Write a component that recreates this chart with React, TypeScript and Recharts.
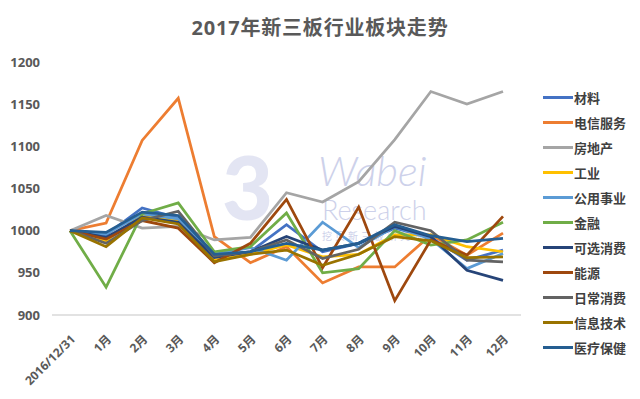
import React from 'react';
import { LineChart, Line, XAxis, YAxis } from 'recharts';

const months = ['2016/12/31', '1月', '2月', '3月', '4月', '5月', '6月', '7月', '8月', '9月', '10月', '11月', '12月'];

const cailiao = [1000, 995, 1027, 1015, 970, 975, 1007, 975, 985, 1003, 992, 965, 977];
const dianxin = [1000, 1009, 1107, 1157, 993, 962, 981, 938, 957, 957, 995, 971, 997];
const fangdichan = [1000, 1018, 1003, 1005, 989, 992, 1045, 1034, 1058, 1108, 1165, 1150, 1165];
const gongye = [1000, 988, 1018, 1012, 965, 972, 983, 969, 972, 995, 995, 981, 975];
const gongyong = [1000, 996, 1020, 1014, 972, 980, 965, 1010, 980, 1005, 990, 955, 973];
const jinrong = [1000, 933, 1020, 1033, 975, 981, 1021, 950, 955, 1000, 983, 989, 1010];
const kexuan = [1000, 992, 1016, 1010, 968, 975, 993, 977, 985, 1005, 993, 953, 941];
const nengyuan = [1000, 990, 1012, 1003, 962, 985, 1037, 956, 1028, 917, 989, 971, 1017];
const richang = [1000, 985, 1012, 1023, 970, 975, 989, 967, 978, 1010, 1000, 965, 963];
const xinxi = [1000, 981, 1015, 1008, 963, 972, 977, 959, 972, 993, 988, 968, 969];
const yiliao = [1000, 998, 1022, 1018, 972, 975, 985, 977, 985, 1007, 994, 987, 991];

const yTicks = [900, 950, 1000, 1050, 1100, 1150, 1200];

const series = [
  { key: 'cailiao', name: '材料', color: '#4472C4', values: cailiao },
  { key: 'dianxin', name: '电信服务', color: '#ED7D31', values: dianxin },
  { key: 'fangdichan', name: '房地产', color: '#A5A5A5', values: fangdichan },
  { key: 'gongye', name: '工业', color: '#FFC000', values: gongye },
  { key: 'gongyong', name: '公用事业', color: '#5B9BD5', values: gongyong },
  { key: 'jinrong', name: '金融', color: '#70AD47', values: jinrong },
  { key: 'kexuan', name: '可选消费', color: '#264478', values: kexuan },
  { key: 'nengyuan', name: '能源', color: '#9E480E', values: nengyuan },
  { key: 'richang', name: '日常消费', color: '#636363', values: richang },
  { key: 'xinxi', name: '信息技术', color: '#997300', values: xinxi },
  { key: 'yiliao', name: '医疗保健', color: '#255E91', values: yiliao },
];

const chartData = months.map((m, i) => {
  const row: Record<string, string | number> = { month: m };
  series.forEach((s) => {
    row[s.key] = s.values[i];
  });
  return row;
});

const FONT = '"Open Sans", "Noto Sans CJK SC", sans-serif';

const XTick = (props: any) => {
  const { x, y, payload } = props;
  const ax = x + 6;
  const ay = y + 17;
  return (
    <text
      x={ax}
      y={ay}
      transform={`rotate(-45, ${ax}, ${ay})`}
      textAnchor="end"
      fill="#595959"
      fontSize={12}
      fontWeight={700}
      fontFamily={FONT}
    >
      {payload.value}
    </text>
  );
};

export default function App() {
  return (
    <div style={{ position: 'absolute', left: 0, top: 0, width: 640, height: 399, background: '#fff', fontFamily: FONT }}>
      {/* watermark */}
      <div style={{ position: 'absolute', left: 0, top: 0, width: 640, height: 399, color: '#cdd1ea' }}>
        <div style={{ position: 'absolute', left: 222, top: 142, fontSize: 88, fontWeight: 900, fontFamily: 'Lato, sans-serif', lineHeight: '88px', opacity: 0.55 }}>3</div>
        <div style={{ position: 'absolute', left: 318, top: 146, fontSize: 42, fontStyle: 'italic', fontWeight: 300, fontFamily: 'Lato, sans-serif', lineHeight: '48px' }}>Wabei</div>
        <div style={{ position: 'absolute', left: 322, top: 196, fontSize: 27, fontWeight: 300, fontFamily: 'Lato, sans-serif', lineHeight: '27px' }}>Research</div>
        <div style={{ position: 'absolute', left: 322, top: 230, fontSize: 10, fontFamily: '"Noto Sans CJK SC"', lineHeight: '12px', letterSpacing: 3 }}>挖贝新三板研究院</div>
      </div>

      <div style={{ position: 'absolute', left: 0, top: 13, width: 640, textAlign: 'center', fontSize: 20, fontWeight: 700, color: '#595959', letterSpacing: 0.8, lineHeight: '30px' }}>
        2017年新三板行业板块走势
      </div>

      <div style={{ position: 'absolute', left: 0, top: 0 }}>
        <LineChart width={640} height={399} data={chartData} margin={{ top: 62, right: 119, left: 8, bottom: 14 }}>
          <XAxis
            dataKey="month"
            interval={0}
            height={70}
            padding={{ left: 18, right: 18 }}
            tickLine={false}
            axisLine={{ stroke: '#d9d9d9', strokeWidth: 1.5 }}
            tick={<XTick />}
          />
          <YAxis
            width={44}
            domain={[900, 1200]}
            ticks={yTicks}
            axisLine={false}
            tickLine={false}
            tickMargin={6}
            tick={{ fill: '#595959', fontSize: 13, fontWeight: 700, fontFamily: FONT }}
          />
          {series.map((s) => (
            <Line
              key={s.key}
              type="linear"
              dataKey={s.key}
              name={s.name}
              stroke={s.color}
              strokeWidth={2.75}
              dot={false}
              activeDot={false}
              isAnimationActive={false}
            />
          ))}
        </LineChart>
      </div>

      <div style={{ position: 'absolute', left: 543, top: 85 }}>
        {series.map((s) => (
          <div key={s.key} style={{ display: 'flex', alignItems: 'center', height: 25 }}>
            <div style={{ width: 30, height: 3, background: s.color }} />
            <div style={{ marginLeft: 1, fontSize: 13, fontWeight: 600, color: '#404040', fontFamily: '"Noto Sans CJK SC", sans-serif', lineHeight: '16px' }}>
              {s.name}
            </div>
          </div>
        ))}
      </div>
    </div>
  );
}
